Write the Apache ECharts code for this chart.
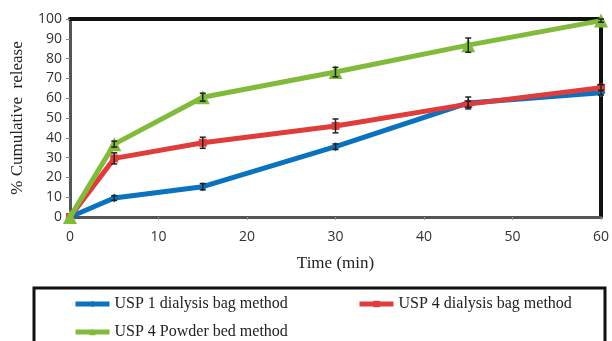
<!DOCTYPE html>
<html><head><meta charset="utf-8">
<script src="https://cdn.jsdelivr.net/npm/echarts@6/dist/echarts.min.js"></script>
<style>html,body{margin:0;padding:0;background:#fff}#c{width:612px;height:341px}</style>
</head><body><div id="c"></div>
<script>
const times = [0, 5, 15, 30, 45, 60];
const seriesNames = ['USP 1 dialysis bag method', 'USP 4 dialysis bag method', 'USP 4 Powder bed method'];
const usp1Bag = [0, 9.6, 15.3, 35.5, 57.6, 62.8];
const usp4Bag = [0, 29.6, 37.5, 46.0, 57.0, 65.3];
const usp4Powder = [0, 36.8, 60.5, 73.2, 86.8, 99.2];
const usp1Err = [0, 1.2, 1.6, 1.4, 3.0, 1.2];
const usp4BagErr = [0, 2.8, 2.8, 3.5, 1.5, 1.5];
const usp4PowderErr = [0, 1.5, 2.0, 2.4, 3.6, 0.8];
const yTicks = [0, 10, 20, 30, 40, 50, 60, 70, 80, 90, 100];
const xTicks = [0, 10, 20, 30, 40, 50, 60];

const colors = ['#0a72bf', '#e03c3c', '#82bb3c'];
const values = [usp1Bag, usp4Bag, usp4Powder];
const errs = [usp1Err, usp4BagErr, usp4PowderErr];
const symbols = ['diamond', 'rect', 'triangle'];
const symSizes = [9, 8, 14];

const chart = echarts.init(document.getElementById('c'));
const series = [];
values.forEach((vals, i) => {
  series.push({
    name: seriesNames[i], type: 'line', data: times.map((t, k) => [t, vals[k]]),
    symbol: symbols[i], symbolSize: symSizes[i], showSymbol: true,
    lineStyle: {width: 5, color: colors[i]}, itemStyle: {color: colors[i]},
    z: 3 + i, animation: false
  });
  series.push({
    type: 'custom', name: seriesNames[i] + ' err', z: 10,
    data: times.map((t, k) => [t, vals[k] - errs[i][k], vals[k] + errs[i][k]]).filter(d => d[2] - d[1] > 0.1),
    renderItem: function (params, api) {
      const lo = api.coord([api.value(0), api.value(1)]);
      const hi = api.coord([api.value(0), api.value(2)]);
      const w = 3;
      const st = {stroke: '#222', lineWidth: 1.5};
      return {type: 'group', children: [
        {type: 'line', shape: {x1: lo[0], y1: lo[1], x2: hi[0], y2: hi[1]}, style: st},
        {type: 'line', shape: {x1: lo[0] - w, y1: lo[1], x2: lo[0] + w, y2: lo[1]}, style: st},
        {type: 'line', shape: {x1: hi[0] - w, y1: hi[1], x2: hi[0] + w, y2: hi[1]}, style: st}
      ]};
    },
    animation: false, silent: true
  });
});

const legTxt = {fontFamily: 'Liberation Serif', fontSize: 16, color: '#222'};
const legCommon = {itemWidth: 34, itemHeight: 8, padding: 0, textStyle: legTxt, lineStyle: {width: 5}};
chart.setOption({
  animation: false,
  grid: {left: 70, right: 7, top: 19, bottom: 124},
  xAxis: [{
    type: 'value', min: 0, max: 60, interval: 10, position: 'bottom',
    name: 'Time (min)', nameLocation: 'middle', nameGap: 38,
    nameTextStyle: {fontFamily: 'Liberation Serif', fontSize: 17, color: '#222'},
    axisLine: {lineStyle: {color: '#555', width: 3}},
    axisTick: {show: true, length: 3, lineStyle: {color: '#999'}},
    axisLabel: {fontFamily: 'Open Sans', fontSize: 14, color: '#333', margin: 13},
    splitLine: {show: false}
  }, {
    type: 'value', min: 0, max: 60, position: 'top',
    axisLine: {show: true, onZero: false, lineStyle: {color: '#111', width: 4}},
    axisTick: {show: false}, axisLabel: {show: false}, splitLine: {show: false}
  }],
  yAxis: [{
    type: 'value', min: 0, max: 100, interval: 10,
    name: '% Cumulative  release', nameLocation: 'middle', nameGap: 44, nameRotate: 90,
    nameTextStyle: {fontFamily: 'Liberation Serif', fontSize: 17, color: '#222'},
    axisLine: {show: true, lineStyle: {color: '#555', width: 3}},
    axisTick: {show: true, length: 4, lineStyle: {color: '#888'}},
    axisLabel: {fontFamily: 'Open Sans', fontSize: 14, color: '#333', margin: 8},
    splitLine: {show: false}
  }, {
    type: 'value', min: 0, max: 100, position: 'right',
    axisLine: {show: true, onZero: false, lineStyle: {color: '#111', width: 4}},
    axisTick: {show: false}, axisLabel: {show: false}, splitLine: {show: false}
  }],
  legend: [
    Object.assign({data: [seriesNames[0]], left: 73, top: 296}, legCommon),
    Object.assign({data: [seriesNames[1]], left: 357, top: 296}, legCommon),
    Object.assign({data: [seriesNames[2]], left: 73, top: 324}, legCommon)
  ],
  graphic: [{
    type: 'rect', shape: {x: 34, y: 288, width: 571, height: 70},
    style: {fill: 'none', stroke: '#111', lineWidth: 3}
  }],
  series: series
});
</script></body></html>
